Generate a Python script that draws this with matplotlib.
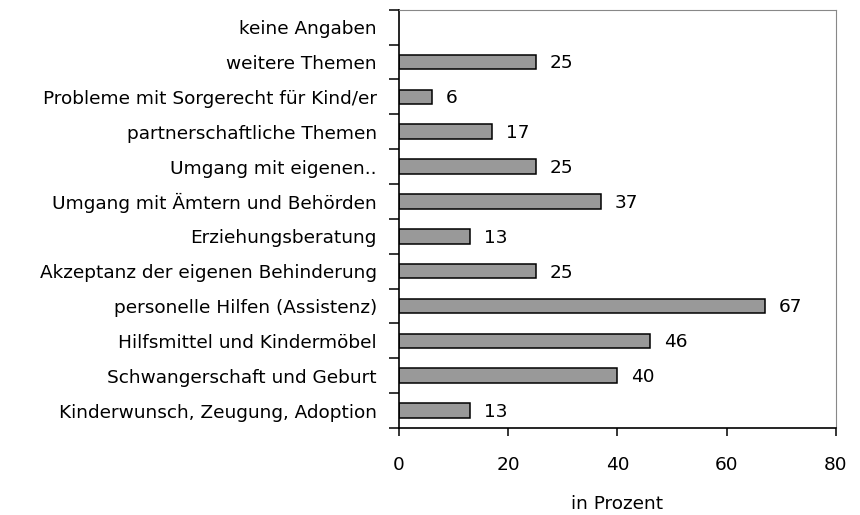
import matplotlib.pyplot as plt

# Daten (von unten nach oben)
kategorien = [
    "Kinderwunsch, Zeugung, Adoption",
    "Schwangerschaft und Geburt",
    "Hilfsmittel und Kindermöbel",
    "personelle Hilfen (Assistenz)",
    "Akzeptanz der eigenen Behinderung",
    "Erziehungsberatung",
    "Umgang mit Ämtern und Behörden",
    "Umgang mit eigenen..",
    "partnerschaftliche Themen",
    "Probleme mit Sorgerecht für Kind/er",
    "weitere Themen",
    "keine Angaben",
]
werte = [13, 40, 46, 67, 25, 13, 37, 25, 17, 6, 25, None]
x_ticks = [0, 20, 40, 60, 80]

plt.rcParams['font.family'] = ['DejaVu Sans']
FS = 13.3

fig = plt.figure(figsize=(8.6, 5.15), dpi=100)
ax = fig.add_axes([0.464, 0.169, 0.508, 0.812])

pos = list(range(len(kategorien)))
laengen = [w if w is not None else 0 for w in werte]
bars = ax.barh(pos, laengen, height=0.42, color='#999999', edgecolor='black', linewidth=1.1)
for b, w in zip(bars, werte):
    if w is None:
        b.set_visible(False)
        continue
    ax.annotate(f"{w}", (w, b.get_y() + b.get_height() / 2), xytext=(10, -1),
                textcoords='offset points', va='center', ha='left', fontsize=FS)

ax.set_xlim(0, 80)
ax.set_ylim(-0.5, len(kategorien) - 0.5)
ax.set_xticks(x_ticks)
ax.set_xticklabels([str(t) for t in x_ticks], fontsize=FS)
ax.tick_params(axis='x', direction='out', length=6, width=1.1, pad=14)

ax.set_yticks(pos)
ax.set_yticklabels(kategorien, fontsize=FS)
ax.set_yticks([p - 0.5 for p in pos] + [len(pos) - 0.5], minor=True)
ax.tick_params(axis='y', which='major', length=0, pad=16)
ax.tick_params(axis='y', which='minor', direction='out', length=7, width=1.1)

ax.set_xlabel("in Prozent", fontsize=FS, labelpad=15)

for s in ['left', 'bottom']:
    ax.spines[s].set_linewidth(1.2)
    ax.spines[s].set_color('black')
for s in ['top', 'right']:
    ax.spines[s].set_linewidth(0.8)
    ax.spines[s].set_color('#888888')

fig.savefig("out.png", dpi=100)
